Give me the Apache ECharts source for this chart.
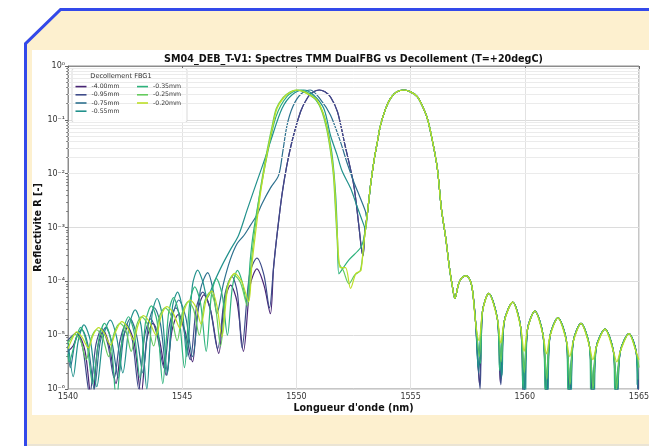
<!DOCTYPE html>
<html>
<head>
<meta charset="utf-8">
<script src="https://cdn.jsdelivr.net/npm/echarts@6/dist/echarts.min.js"></script>
<style>
  html, body { margin: 0; padding: 0; background: #fff; }
  #page { position: relative; width: 649px; height: 446px; overflow: hidden; }
  #frame { position: absolute; left: 0; top: 0; }
  #chart { position: absolute; left: 32px; top: 50px; width: 617px; height: 365px; background: #fff; }
</style>
</head>
<body>
<div id="page">
  <svg id="frame" width="649" height="446">
    <polygon points="24,446 24,43 60,8 660,8 660,446" fill="#fdf0cf"/>
    <polyline points="25.5,450 25.5,43.6 60.6,9.5 660,9.5" fill="none" stroke="#3349ea" stroke-width="3"/>
    <line x1="27" y1="445" x2="649" y2="445" stroke="#d9d9d9" stroke-width="1"/>
  </svg>
  <div id="chart"></div>
</div>
<script>
// series names and colours (viridis 0.1 .. 0.9)
const seriesNames = ['-4.00mm', '-0.95mm', '-0.75mm', '-0.55mm', '-0.35mm', '-0.25mm', '-0.20mm']
const seriesColors = ['#482475', '#3e4c8a', '#2d708e', '#21918c', '#2eb37c', '#65cb5e', '#bddf26']
const xTicks = [1540, 1545, 1550, 1555, 1560, 1565]

// [wavelength nm, reflectivity]

// FBG1 fully shifted main lobe (-4.00 / -0.95 overlap)
const shiftedLobe = [
  [1549.00, 1.8e-4], [1549.15, 7.2e-4], [1549.40, 5.0e-3], [1549.74, 3.0e-2], [1550.18, 1.41e-1],
  [1550.50, 2.63e-1], [1550.75, 3.31e-1], [1551.00, 3.58e-1], [1551.25, 3.31e-1], [1551.50, 2.63e-1],
  [1551.80, 1.41e-1], [1552.12, 3.5e-2], [1552.51, 6.2e-3], [1552.73, 1.12e-3], [1552.85, 4.0e-4],
  [1552.92, 3.0e-4], [1553.00, 8.9e-4]
]

const headM400 = [
  [1540.00, 5.0e-6], [1540.22, 6.3e-6], [1540.45, 1.0e-5], [1540.75, 5.0e-6], [1541.05, 5.0e-7],
  [1541.30, 6.0e-6], [1541.55, 1.2e-5], [1541.82, 6.0e-6], [1542.10, 1.26e-6],
  [1542.35, 7.1e-6], [1542.62, 1.4e-5], [1542.90, 7.1e-6], [1543.20, 7.9e-7],
  [1543.45, 8.3e-6], [1543.72, 1.66e-5], [1544.00, 8.3e-6], [1544.30, 1.8e-6],
  [1544.55, 1.2e-5], [1544.82, 2.4e-5], [1545.12, 1.2e-5], [1545.45, 3.2e-6],
  [1545.68, 2.8e-5], [1545.95, 5.6e-5], [1546.25, 2.8e-5], [1546.60, 4.6e-6],
  [1546.85, 4.2e-5], [1547.12, 8.5e-5], [1547.40, 4.2e-5], [1547.68, 5.0e-6],
  [1547.98, 8.5e-5], [1548.27, 1.7e-4], [1548.58, 8.5e-5], [1548.86, 2.5e-5]
]

const headM095 = [
  [1540.00, 8.0e-6], [1540.15, 9.5e-6], [1540.38, 1.12e-5], [1540.65, 5.6e-6], [1540.95, 7.9e-7],
  [1541.22, 6.6e-6], [1541.48, 1.32e-5], [1541.75, 6.6e-6], [1542.02, 1.6e-6],
  [1542.28, 8.0e-6], [1542.55, 1.6e-5], [1542.82, 8.0e-6], [1543.10, 1.0e-6],
  [1543.36, 1.0e-5], [1543.62, 2.0e-5], [1543.90, 1.0e-5], [1544.20, 2.5e-6],
  [1544.45, 1.6e-5], [1544.72, 3.2e-5], [1545.02, 1.6e-5], [1545.35, 3.5e-6],
  [1545.62, 3.2e-5], [1545.90, 6.3e-5], [1546.22, 3.2e-5], [1546.55, 5.6e-6],
  [1546.88, 6.0e-5], [1547.18, 1.23e-4], [1547.42, 6.0e-5], [1547.62, 5.8e-6],
  [1547.95, 1.35e-4], [1548.27, 2.7e-4], [1548.58, 1.3e-4], [1548.82, 3.2e-5]
]

const headM075 = [
  [1540.00, 6.3e-6], [1540.10, 2.5e-6], [1540.35, 8.9e-6], [1540.60, 1.26e-5], [1540.88, 6.3e-6],
  [1541.15, 1.0e-6], [1541.40, 7.1e-6], [1541.65, 1.4e-5], [1541.93, 7.1e-6],
  [1542.20, 1.6e-6], [1542.45, 1.0e-5], [1542.72, 2.0e-5], [1543.00, 1.0e-5],
  [1543.28, 2.0e-6], [1543.52, 1.6e-5], [1543.78, 3.2e-5], [1544.05, 1.6e-5],
  [1544.33, 1.8e-6], [1544.58, 2.2e-5], [1544.85, 4.5e-5], [1545.15, 2.2e-5],
  [1545.45, 4.0e-6], [1545.80, 7.0e-5], [1546.12, 1.45e-4], [1546.35, 7.0e-5],
  [1546.52, 2.5e-5], [1546.80, 8.9e-5], [1547.10, 2.5e-4], [1547.40, 5.0e-4],
  [1547.70, 7.1e-4], [1548.00, 1.12e-3], [1548.27, 1.7e-3], [1548.50, 2.8e-3],
  [1548.86, 5.4e-3], [1549.22, 9.3e-3], [1549.40, 2.5e-2], [1549.59, 7.9e-2],
  [1549.85, 1.78e-1], [1550.20, 3.02e-1], [1550.61, 3.58e-1], [1551.05, 2.4e-1],
  [1551.49, 1.23e-1], [1551.93, 3.9e-2], [1552.22, 1.58e-2], [1552.51, 7.1e-3],
  [1552.80, 3.5e-3], [1553.03, 1.95e-3], [1553.06, 1.6e-3]
]

const headM055 = [
  [1540.00, 8.0e-6], [1540.23, 1.7e-6], [1540.45, 7.9e-6], [1540.70, 1.55e-5], [1540.98, 7.9e-6],
  [1541.26, 1.1e-6], [1541.55, 9.5e-6], [1541.85, 1.9e-5], [1542.12, 9.5e-6],
  [1542.40, 2.0e-6], [1542.68, 1.5e-5], [1542.94, 2.95e-5], [1543.20, 1.5e-5],
  [1543.45, 1.0e-6], [1543.68, 2.4e-5], [1543.90, 4.8e-5], [1544.12, 2.4e-5],
  [1544.35, 2.0e-6], [1544.58, 3.5e-5], [1544.80, 6.3e-5], [1545.00, 3.2e-5],
  [1545.20, 4.0e-6], [1545.45, 8.5e-5], [1545.68, 1.62e-4], [1545.90, 1.0e-4],
  [1546.10, 5.0e-5], [1546.37, 9.1e-5], [1546.75, 2.0e-4], [1547.10, 3.8e-4],
  [1547.47, 7.2e-4], [1547.84, 2.1e-3], [1548.27, 7.1e-3], [1548.64, 2.0e-2],
  [1548.86, 3.9e-2], [1549.37, 1.62e-1], [1549.80, 2.9e-1], [1550.32, 3.58e-1],
  [1550.75, 2.9e-1], [1551.20, 1.62e-1], [1551.50, 5.0e-2], [1551.78, 2.24e-2],
  [1552.00, 1.12e-2], [1552.37, 5.4e-3], [1552.65, 2.5e-3], [1552.95, 1.12e-3],
  [1553.03, 9.0e-4]
]

const headM035 = [
  [1540.00, 4.5e-6], [1540.05, 3.2e-6], [1540.30, 7.1e-6], [1540.55, 1.4e-5], [1540.82, 7.1e-6],
  [1541.08, 1.26e-6], [1541.35, 8.3e-6], [1541.60, 1.66e-5], [1541.87, 8.3e-6],
  [1542.12, 6.3e-7], [1542.40, 1.1e-5], [1542.65, 2.2e-5], [1542.90, 1.1e-5],
  [1543.15, 1.6e-6], [1543.40, 1.8e-5], [1543.65, 3.5e-5], [1543.90, 1.8e-5],
  [1544.15, 1.26e-6], [1544.40, 2.5e-5], [1544.62, 5.0e-5], [1544.85, 2.5e-5],
  [1545.10, 2.5e-6], [1545.33, 4.0e-5], [1545.55, 7.9e-5], [1545.80, 4.0e-5],
  [1546.05, 5.0e-6], [1546.28, 5.6e-5], [1546.50, 1.12e-4], [1546.75, 5.6e-5],
  [1546.98, 1.0e-5], [1547.20, 8.0e-5], [1547.42, 1.6e-4], [1547.62, 1.0e-4],
  [1547.82, 4.0e-5], [1547.98, 2.5e-4], [1548.10, 7.2e-4], [1548.35, 3.2e-3],
  [1548.70, 2.0e-2], [1549.10, 1.12e-1], [1549.60, 2.75e-1], [1550.12, 3.58e-1],
  [1550.60, 3.02e-1], [1551.00, 1.9e-1], [1551.30, 8.9e-2], [1551.55, 2.5e-2],
  [1551.72, 4.0e-3], [1551.80, 6.3e-4], [1551.86, 1.38e-4], [1552.30, 2.5e-4],
  [1552.81, 4.2e-4], [1552.95, 6.3e-4]
]

const headM025 = [
  [1540.00, 7.1e-6], [1540.12, 8.5e-6], [1540.30, 1.05e-5], [1540.55, 8.0e-6], [1540.80, 3.5e-6],
  [1541.02, 8.9e-6], [1541.25, 1.26e-5], [1541.50, 9.5e-6], [1541.78, 4.0e-6],
  [1542.02, 1.1e-5], [1542.28, 1.66e-5], [1542.52, 1.26e-5], [1542.77, 5.0e-6],
  [1543.00, 1.5e-5], [1543.22, 2.2e-5], [1543.48, 1.6e-5], [1543.75, 6.3e-6],
  [1544.00, 2.2e-5], [1544.25, 3.2e-5], [1544.50, 2.4e-5], [1544.78, 7.9e-6],
  [1545.02, 2.8e-5], [1545.27, 4.2e-5], [1545.50, 3.0e-5], [1545.75, 1.0e-5],
  [1545.98, 4.2e-5], [1546.22, 6.3e-5], [1546.45, 3.5e-5], [1546.68, 6.3e-6],
  [1546.95, 7.5e-5], [1547.25, 1.32e-4], [1547.55, 9.5e-5], [1547.85, 3.5e-5],
  [1548.00, 1.8e-4], [1548.15, 7.2e-4], [1548.40, 4.5e-3], [1548.68, 2.24e-2],
  [1548.92, 7.1e-2], [1549.12, 1.62e-1], [1549.42, 2.6e-1], [1549.72, 3.3e-1],
  [1550.00, 3.58e-1], [1550.32, 3.3e-1], [1550.62, 2.8e-1], [1550.88, 2.3e-1],
  [1551.12, 1.41e-1], [1551.32, 6.9e-2], [1551.48, 2.8e-2], [1551.62, 9.3e-3],
  [1551.70, 2.5e-3], [1551.78, 6.3e-4], [1551.86, 2.2e-4], [1552.05, 1.6e-4],
  [1552.30, 9.0e-5], [1552.55, 1.3e-4], [1552.80, 1.6e-4], [1552.95, 5.0e-4]
]

const headM020 = [
  [1540.00, 5.6e-6], [1540.18, 8.5e-6], [1540.38, 1.15e-5], [1540.62, 9.1e-6], [1540.89, 5.8e-6],
  [1541.10, 1.0e-5], [1541.33, 1.38e-5], [1541.58, 1.1e-5], [1541.86, 6.6e-6],
  [1542.10, 1.2e-5], [1542.35, 1.78e-5], [1542.60, 1.4e-5], [1542.87, 8.1e-6],
  [1543.08, 1.6e-5], [1543.30, 2.3e-5], [1543.55, 1.8e-5], [1543.86, 1.0e-5],
  [1544.08, 2.3e-5], [1544.33, 3.4e-5], [1544.60, 2.6e-5], [1544.90, 1.35e-5],
  [1545.10, 3.0e-5], [1545.35, 4.5e-5], [1545.60, 3.3e-5], [1545.83, 1.6e-5],
  [1546.05, 4.5e-5], [1546.30, 6.6e-5], [1546.52, 3.5e-5], [1546.74, 9.3e-6],
  [1547.00, 8.0e-5], [1547.30, 1.4e-4], [1547.60, 1.0e-4], [1547.91, 4.2e-5],
  [1548.05, 2.0e-4], [1548.20, 7.2e-4], [1548.45, 5.0e-3], [1548.71, 2.24e-2],
  [1548.95, 7.1e-2], [1549.15, 1.62e-1], [1549.45, 2.6e-1], [1549.75, 3.3e-1],
  [1550.03, 3.58e-1], [1550.35, 3.3e-1], [1550.65, 2.8e-1], [1550.90, 2.34e-1],
  [1551.15, 1.41e-1], [1551.35, 6.9e-2], [1551.50, 2.8e-2], [1551.64, 9.3e-3],
  [1551.72, 2.5e-3], [1551.79, 7.2e-4], [1551.86, 2.5e-4], [1551.93, 1.8e-4],
  [1552.15, 1.8e-4], [1552.37, 7.4e-5], [1552.60, 1.4e-4], [1552.73, 1.5e-4],
  [1552.83, 1.6e-4], [1552.95, 5.0e-4]
]

// FBG2 main lobe, common to every curve
const fbg2Lobe = [
  [1553.10, 1.7e-3], [1553.25, 6.3e-3], [1553.39, 1.66e-2], [1553.55, 4.0e-2], [1553.68, 7.9e-2],
  [1553.90, 1.58e-1], [1554.12, 2.51e-1], [1554.40, 3.31e-1], [1554.71, 3.58e-1], [1555.00, 3.31e-1],
  [1555.29, 2.69e-1], [1555.50, 1.86e-1], [1555.73, 1.07e-1], [1555.95, 4.2e-2], [1556.17, 1.26e-2],
  [1556.35, 2.2e-3], [1556.54, 6.3e-4], [1556.70, 1.8e-4], [1556.82, 8.5e-5], [1556.94, 4.8e-5],
  [1557.10, 8.9e-5], [1557.25, 1.17e-4], [1557.44, 1.26e-4], [1557.62, 1.0e-4], [1557.72, 6.3e-5]
]

// FBG2 right side lobes (without the nulls)
const tailArches = [
  [1557.85, 1.66e-5], [1558.15, 2.8e-5], [1558.42, 6.0e-5], [1558.80, 2.0e-5],
  [1559.10, 1.8e-5], [1559.47, 4.1e-5], [1559.82, 1.4e-5],
  [1560.12, 1.3e-5], [1560.44, 2.8e-5], [1560.80, 1.0e-5],
  [1561.10, 9.5e-6], [1561.45, 2.1e-5], [1561.82, 7.9e-6],
  [1562.12, 7.6e-6], [1562.46, 1.66e-5], [1562.83, 6.3e-6],
  [1563.13, 6.0e-6], [1563.51, 1.3e-5], [1563.88, 5.0e-6],
  [1564.18, 5.0e-6], [1564.56, 1.07e-5], [1564.88, 4.8e-6]
]

// nulls between those lobes, per curve
const nullsM400 = [[1558.02, 1.2e-6], [1558.93, 1.3e-6], [1559.94, 5.0e-7], [1560.93, 6.0e-7], [1561.93, 5.0e-7], [1562.95, 6.0e-7], [1563.98, 5.0e-7], [1564.97, 6.0e-7]]
const nullsM095 = [[1558.04, 1.0e-6], [1558.95, 1.2e-6], [1559.95, 6.0e-7], [1560.95, 5.0e-7], [1561.95, 6.0e-7], [1562.97, 5.0e-7], [1564.00, 6.0e-7], [1564.98, 8.0e-7]]
const nullsM075 = [[1557.98, 2.0e-6], [1558.98, 1.6e-6], [1559.99, 8.0e-7], [1560.98, 7.0e-7], [1562.00, 5.0e-7], [1563.00, 6.0e-7], [1564.04, 5.0e-7], [1564.94, 1.0e-6]]
const nullsM055 = [[1557.96, 2.5e-6], [1559.00, 1.8e-6], [1560.02, 6.0e-7], [1561.00, 5.0e-7], [1562.02, 6.0e-7], [1563.03, 5.0e-7], [1564.06, 7.0e-7], [1564.92, 1.2e-6]]
const nullsM035 = [[1558.06, 3.0e-6], [1558.90, 2.2e-6], [1559.92, 1.0e-6], [1560.90, 8.0e-7], [1561.90, 7.0e-7], [1562.90, 6.0e-7], [1563.95, 8.0e-7], [1564.95, 1.5e-6]]
const nullsM025 = [[1558.01, 4.0e-6], [1558.96, 3.2e-6], [1559.98, 2.0e-6], [1560.96, 1.5e-6], [1561.98, 1.2e-6], [1562.99, 1.0e-6], [1564.02, 1.0e-6], [1565.00, 2.5e-6]]
const nullsM020 = [[1558.00, 7.9e-6], [1558.95, 7.1e-6], [1559.97, 5.0e-6], [1560.95, 4.5e-6], [1561.97, 4.0e-6], [1562.98, 3.5e-6], [1564.03, 3.2e-6], [1565.00, 3.5e-6]]

function buildCurve(head, nulls) {
  const tail = tailArches.concat(nulls).sort((a, b) => a[0] - b[0])
  return head.concat(fbg2Lobe, tail)
}

const curves = [
  buildCurve(headM400.concat(shiftedLobe), nullsM400),
  buildCurve(headM095.concat(shiftedLobe), nullsM095),
  buildCurve(headM075, nullsM075),
  buildCurve(headM055, nullsM055),
  buildCurve(headM035, nullsM035),
  buildCurve(headM025, nullsM025),
  buildCurve(headM020, nullsM020)
]

// minor grid values 2..9 x 10^k
const minorValues = []
const minorLogs = []
for (let d = -6; d < 0; d++) {
  for (let k = 2; k <= 9; k++) {
    minorValues.push(k * Math.pow(10, d))
    minorLogs.push(d + Math.log10(k))
  }
}

const sup = { '-': '\u207b', '0': '\u2070', '1': '\u00b9', '2': '\u00b2', '3': '\u00b3', '4': '\u2074', '5': '\u2075', '6': '\u2076' }
function powLabel(v) {
  const e = String(Math.round(Math.log10(v)))
  return '10' + e.split('').map(c => sup[c]).join('')
}

const font = 'DejaVu Sans'
const chart = echarts.init(document.getElementById('chart'), null, { renderer: 'canvas' })

const series = [{
  name: 'grid-minor',
  type: 'line',
  data: [[1540, 1e-6]],
  showSymbol: false,
  lineStyle: { opacity: 0 },
  silent: true,
  z: 1,
  markLine: {
    silent: true,
    symbol: ['none', 'none'],
    label: { show: false },
    lineStyle: { color: '#ebebeb', width: 1, type: 'solid' },
    animation: false,
    data: minorValues.map(v => ({ yAxis: v }))
  }
}]
curves.forEach((data, i) => {
  series.push({
    name: seriesNames[i],
    type: 'line',
    data: data,
    showSymbol: false,
    smooth: 0.3,
    clip: true,
    z: 2 + i,
    color: seriesColors[i],
    lineStyle: { width: 1.2, color: seriesColors[i] }
  })
})

const legendBase = {
  orient: 'vertical',
  top: 32.5,
  padding: 0,
  itemGap: 0,
  itemWidth: 11,
  itemHeight: 1.6,
  icon: 'rect',
  selectedMode: false,
  z: 6,
  textStyle: { fontFamily: font, fontSize: 6.2, lineHeight: 8.2, color: '#333' }
}

chart.setOption({
  animation: false,
  backgroundColor: '#ffffff',
  grid: {
    left: 36,
    right: 10,
    top: 16,
    bottom: 26,
    containLabel: false,
    outerBoundsMode: 'none',
    show: true,
    borderColor: '#8c8c8c',
    borderWidth: 1
  },
  xAxis: {
    type: 'value',
    min: 1540,
    max: 1565,
    interval: 5,
    axisLine: { lineStyle: { color: '#8c8c8c' } },
    axisTick: { length: 3, lineStyle: { color: '#666' } },
    axisLabel: {
      fontFamily: font, fontSize: 8, color: '#333', margin: 4,
      formatter: v => (xTicks.indexOf(v) >= 0 ? String(v) : '')
    },
    splitLine: { show: true, lineStyle: { color: '#e2e2e2' } }
  },
  yAxis: [{
    type: 'log',
    logBase: 10,
    min: 1e-6,
    max: 1,
    splitNumber: 6,
    axisLine: { show: true, lineStyle: { color: '#8c8c8c' } },
    axisTick: { show: true, length: 3, lineStyle: { color: '#666' } },
    axisLabel: { fontFamily: font, fontSize: 8, color: '#333', margin: 3, formatter: powLabel },
    splitLine: { show: true, lineStyle: { color: '#dcdcdc' } }
  }, {
    type: 'value',
    min: -6,
    max: 0,
    position: 'left',
    axisLine: { show: false },
    axisLabel: { show: false },
    splitLine: { show: false },
    axisTick: { show: true, length: 1.8, customValues: minorLogs, lineStyle: { color: '#777' } }
  }],
  legend: [
    Object.assign({}, legendBase, { data: seriesNames.slice(0, 4), left: 43.5 }),
    Object.assign({}, legendBase, { data: seriesNames.slice(4), left: 105 })
  ],
  graphic: {
    elements: [{
      type: 'text',
      x: 321.5,
      y: 9,
      z: 10,
      style: {
        text: 'SM04_DEB_T-V1: Spectres TMM DualFBG vs Decollement (T=+20degC)',
        font: 'bold 9.6px "DejaVu Sans"',
        fill: '#111',
        align: 'center',
        verticalAlign: 'middle'
      }
    }, {
      type: 'text',
      x: 321.5,
      y: 358,
      z: 10,
      style: {
        text: "Longueur d'onde (nm)",
        font: 'bold 9.6px "DejaVu Sans"',
        fill: '#111',
        align: 'center',
        verticalAlign: 'middle'
      }
    }, {
      type: 'text',
      x: 6,
      y: 177.5,
      rotation: Math.PI / 2,
      z: 10,
      style: {
        text: 'Reflectivite R [-]',
        font: 'bold 9.6px "DejaVu Sans"',
        fill: '#111',
        align: 'center',
        verticalAlign: 'middle'
      }
    }, {
      type: 'rect',
      z: 5,
      shape: { x: 40, y: 18.5, width: 115, height: 54, r: 2 },
      style: { fill: 'rgba(255,255,255,0.9)', stroke: '#cfcfcf', lineWidth: 0.8 }
    }, {
      type: 'text',
      x: 89,
      y: 26,
      z: 6,
      style: {
        text: 'Decollement FBG1',
        font: '6.6px "DejaVu Sans"',
        fill: '#333',
        align: 'center',
        verticalAlign: 'middle'
      }
    }]
  },
  series: series
})
</script>
</body>
</html>
